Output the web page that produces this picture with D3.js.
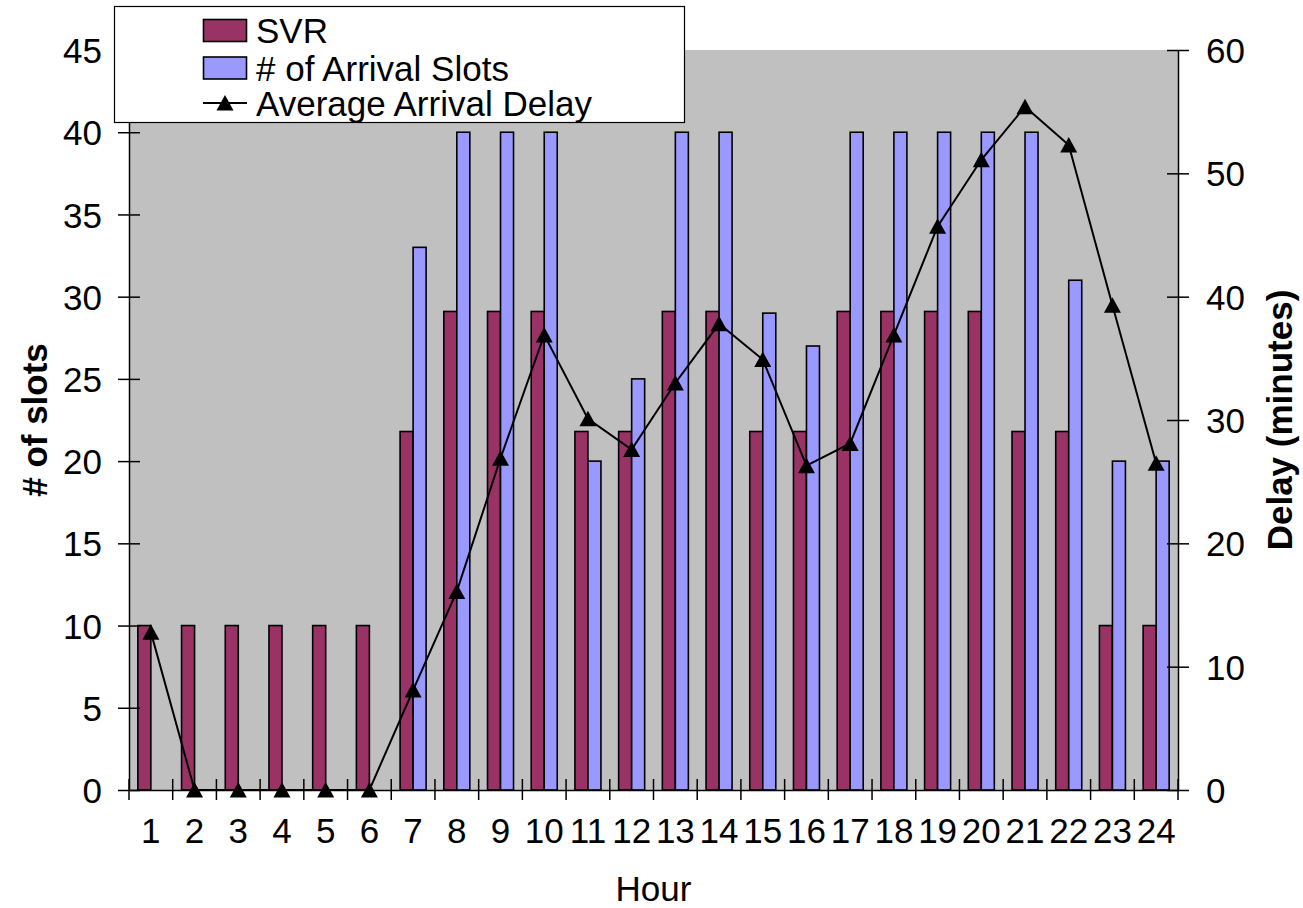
<!DOCTYPE html>
<html>
<head>
<meta charset="utf-8">
<script src="https://cdn.jsdelivr.net/npm/d3@7/dist/d3.min.js"></script>
<style>
  html, body { margin: 0; padding: 0; background: #fff; }
  svg text { font-family: "Liberation Sans", Arial, sans-serif; fill: #000; }
</style>
</head>
<body>
<svg id="chart" width="1303" height="908"></svg>
<script>
// Hourly slot counts and average arrival delay
const hours = ["1","2","3","4","5","6","7","8","9","10","11","12","13","14","15","16","17","18","19","20","21","22","23","24"];
const svr = [10,10,10,10,10,10,21.8,29.1,29.1,29.1,21.8,21.8,29.1,29.1,21.8,21.8,29.1,29.1,29.1,29.1,21.8,21.8,10,10];
const arrivalSlots = [0,0,0,0,0,0,33,40,40,40,20,25,40,40,29,27,40,40,40,40,40,31,20,20];
const avgDelay = [12.8,0,0,0,0,0,8.1,16.1,26.9,36.9,30.1,27.6,33.0,37.8,34.9,26.3,28.1,36.9,45.7,51.1,55.4,52.3,39.3,26.5];
const slotTicks = [0,5,10,15,20,25,30,35,40,45];
const delayTicks = [0,10,20,30,40,50,60];
const seriesNames = ["SVR", "# of Arrival Slots", "Average Arrival Delay"];

const svg = d3.select("#chart");
const plot = { left: 129, right: 1178, top: 50, bottom: 790 };
const FONT = 35;

const x0 = d3.scaleBand().domain(hours).range([plot.left, plot.right]).padding(0);
const x1 = d3.scaleBand().domain(["svr", "slots"]).range([0, x0.bandwidth()]).paddingInner(0).paddingOuter(0.68);
const yL = d3.scaleLinear().domain([0, 45]).range([plot.bottom, plot.top]);
const yR = d3.scaleLinear().domain([0, 60]).range([plot.bottom, plot.top]);

// plot background
svg.append("rect")
  .attr("x", plot.left).attr("y", plot.top)
  .attr("width", plot.right - plot.left).attr("height", plot.bottom - plot.top)
  .attr("fill", "#c0c0c0");

// bars
const rows = hours.map((h, i) => ({ h, svr: svr[i], slots: arrivalSlots[i] }));
const colors = { svr: "#993366", slots: "#9999ff" };
["svr", "slots"].forEach(key => {
  svg.append("g").selectAll("rect")
    .data(rows.filter(d => d[key] > 0))
    .join("rect")
    .attr("x", d => x0(d.h) + x1(key))
    .attr("y", d => yL(d[key]))
    .attr("width", x1.bandwidth())
    .attr("height", d => yL(0) - yL(d[key]))
    .attr("fill", colors[key])
    .attr("stroke", "#000")
    .attr("stroke-width", 1.6);
});

// delay line with triangle markers
const cx = h => x0(h) + x0.bandwidth() / 2;
const line = d3.line().x((d, i) => cx(hours[i])).y(d => yR(d));
svg.append("path")
  .datum(avgDelay)
  .attr("d", line)
  .attr("fill", "none")
  .attr("stroke", "#000")
  .attr("stroke-width", 2);

const tri = "M0,-8 L8.5,7.5 L-8.5,7.5 Z";
svg.append("g").selectAll("path")
  .data(avgDelay)
  .join("path")
  .attr("d", tri)
  .attr("transform", (d, i) => `translate(${cx(hours[i])},${yR(d)})`)
  .attr("fill", "#000");

// axes
const axisStyle = g => {
  g.select(".domain").attr("stroke", "#000").attr("stroke-width", 1.5);
  g.selectAll(".tick line").attr("stroke", "#000").attr("stroke-width", 1.5);
  g.selectAll(".tick text").attr("font-size", FONT).attr("font-family", "Liberation Sans, Arial, sans-serif");
};

const leftAxis = svg.append("g")
  .attr("transform", `translate(${plot.left},0)`)
  .call(d3.axisLeft(yL).tickValues(slotTicks).tickSize(11).tickSizeOuter(0).tickPadding(16))
  .call(axisStyle);
leftAxis.selectAll(".tick line").attr("x2", -11).attr("x1", 11);
leftAxis.selectAll(".tick text").attr("dy", "0.36em");

const rightAxis = svg.append("g")
  .attr("transform", `translate(${plot.right},0)`)
  .call(d3.axisRight(yR).tickValues(delayTicks).tickSize(11).tickSizeOuter(0).tickPadding(17))
  .call(axisStyle);
rightAxis.selectAll(".tick line").attr("x1", -11).attr("x2", 11);
rightAxis.selectAll(".tick text").attr("dy", "0.36em");

const bottomAxis = svg.append("g")
  .attr("transform", `translate(0,${plot.bottom})`)
  .call(d3.axisBottom(x0).tickSize(0).tickSizeOuter(0).tickPadding(28))
  .call(axisStyle);
bottomAxis.selectAll(".tick text").attr("dy", "0.71em");

// category boundary ticks
const bounds = hours.map(h => x0(h)).concat([plot.right]);
svg.append("g").selectAll("line")
  .data(bounds)
  .join("line")
  .attr("x1", d => d).attr("x2", d => d)
  .attr("y1", plot.bottom - 11).attr("y2", plot.bottom + 10)
  .attr("stroke", "#000").attr("stroke-width", 1.5);

// axis titles
svg.append("text")
  .attr("x", (plot.left + plot.right) / 2).attr("y", 901)
  .attr("text-anchor", "middle").attr("font-size", FONT)
  .text("Hour");

svg.append("text")
  .attr("transform", `translate(47,${(plot.top + plot.bottom) / 2}) rotate(-90)`)
  .attr("text-anchor", "middle").attr("font-size", FONT).attr("font-weight", "bold")
  .text("# of slots");

svg.append("text")
  .attr("transform", `translate(1292,${(plot.top + plot.bottom) / 2}) rotate(-90)`)
  .attr("text-anchor", "middle").attr("font-size", FONT).attr("font-weight", "bold")
  .text("Delay (minutes)");

// legend
const legend = svg.append("g");
legend.append("rect")
  .attr("x", 114.5).attr("y", 6.5).attr("width", 570).attr("height", 116)
  .attr("fill", "#fff").attr("stroke", "#000").attr("stroke-width", 1.2);

const legendRows = [
  { name: seriesNames[0], type: "bar", color: colors.svr, cy: 30.5 },
  { name: seriesNames[1], type: "bar", color: colors.slots, cy: 68 },
  { name: seriesNames[2], type: "line", cy: 103 }
];
legendRows.forEach(r => {
  if (r.type === "bar") {
    legend.append("rect")
      .attr("x", 203.5).attr("y", r.cy - 11).attr("width", 43).attr("height", 22)
      .attr("fill", r.color).attr("stroke", "#000").attr("stroke-width", 1.6);
  } else {
    legend.append("line")
      .attr("x1", 203).attr("x2", 247).attr("y1", r.cy).attr("y2", r.cy)
      .attr("stroke", "#000").attr("stroke-width", 2);
    legend.append("path").attr("d", tri)
      .attr("transform", `translate(225,${r.cy})`).attr("fill", "#000");
  }
  legend.append("text")
    .attr("x", 256).attr("y", r.cy + 12.5)
    .attr("font-size", FONT)
    .text(r.name);
});
</script>
</body>
</html>
